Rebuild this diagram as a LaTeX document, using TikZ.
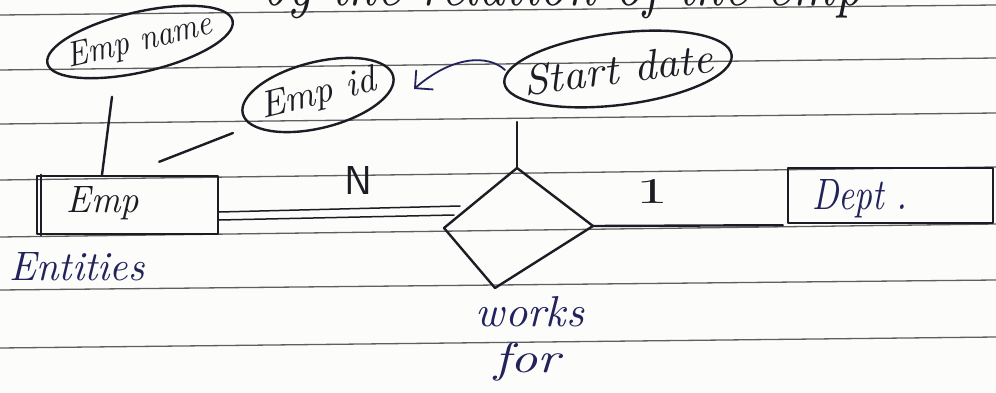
\documentclass[tikz,border=0pt]{standalone}
\usepackage{fontspec}
\usetikzlibrary{shapes.geometric,arrows.meta,calc}
\definecolor{ink}{RGB}{28,28,36}
\definecolor{blueink}{RGB}{34,34,92}
\definecolor{ruleline}{RGB}{95,95,95}
\definecolor{paper}{RGB}{252,252,250}
% handwritten-looking word squeezed into a given width and height
\newcommand\hand[3]{\resizebox{#1pt}{#2pt}{\itshape #3}}
\newcommand\plain[3]{\resizebox{#1pt}{#2pt}{#3}}

\begin{document}
\begin{tikzpicture}[x=1pt,y=-1pt,line cap=round,line join=round,
  pen/.style={draw=ink,line width=2.4pt},
  attr/.style={ellipse,pen,inner xsep=-16pt,inner ysep=0pt,text=ink},
  entity/.style={rectangle,pen,inner sep=0pt},
  hw/.style={inner sep=0pt,text=ink},
  hwblue/.style={inner sep=0pt,text=blueink}]

\useasboundingbox (0,0) rectangle (996,393);
\fill[paper] (0,0) rectangle (996,393);

% ruled notebook lines
\foreach \a/\b in {15/5,70/58,124/113,180/167,237/224,290/280,348/337}
  \draw[ruleline,line width=1.3pt] (0,\a) -- (996,\b);

% the cut-off line of writing at the top of the page
\begin{scope}
  \clip (0,0) rectangle (996,30);
  \node[hw,anchor=base west] (topline) at (262,6) {\hand{600}{46}{by the relation of the emp}};
\end{scope}

% attributes
\node[attr,minimum width=190pt,minimum height=60pt,rotate=13] (empname) at (140,42)
  {\hand{148}{24}{Emp name}};
\node[attr,minimum width=155pt,minimum height=66pt,rotate=14] (empid) at (318,95)
  {\hand{118}{26}{Emp id}};
\node[attr,minimum width=229pt,minimum height=72pt,rotate=7] (startdate) at (618,69)
  {\hand{190}{30}{Start date}};

% entities
\node[entity,minimum width=181pt,minimum height=58pt] (emp) at (127.5,205) {};
\draw[pen] ($(emp.north west)+(5,0)$) -- ($(emp.south west)+(5,0)$);
\node[hw] (empT) at (103,203) {\hand{72}{26}{Emp}};
\node[hwblue] (entities) at (77,267) {\hand{135}{28}{Entities}};

\node[entity,minimum width=205pt,minimum height=55pt] (dept) at (890.5,195.5) {};
\node[hwblue] (deptT) at (860,199) {\hand{95}{30}{Dept~.}};

% relationship: a hand-drawn, slightly lopsided diamond
\coordinate (wN) at (517,168);
\coordinate (wE) at (593,226);
\coordinate (wS) at (495,288);
\coordinate (wW) at (444,228);
\draw[pen] (wN) -- (wE) -- (wS) -- (wW) -- cycle;
\node[hwblue] (worksT) at (530,312) {\hand{108}{30}{works}};
\node[hwblue] (forT) at (527,362) {\hand{66}{30}{for}};

% cardinalities
\node[hw] (cardN) at (358,180) {\plain{28}{28}{\sffamily N}};
\node[hw] (card1) at (652,191) {\plain{32}{24}{1}};

% connectors
\draw[pen] ($(emp.north)+(-15.5,-78)$) -- ($(emp.north)+(-25.5,0)$);
\draw[pen] ($(empid)+(-85,38)$) -- ($(emp.north east)+(-60,-13)$);
\draw[pen] ($(wN)+(0,-46)$) -- (wN);
\draw[pen,line width=1.5pt] ($(emp.east)+(0,7)$) -- ($(wW)+(16,-22)$);
\draw[pen,line width=1.5pt] ($(emp.east)+(0,15)$) -- ($(wW)+(10,-13)$);
\draw[pen] (wE) -- ($(dept.south west)+(-4,1)$);

% arrow from start date back to emp id
\draw[pen,draw=blueink,line width=1.8pt,-{Straight Barb[length=13pt,width=26pt]}]
  ($(startdate)+(-113,1)$) .. controls (488,54) and (452,56) .. ($(empid)+(96,-6)$);
\end{tikzpicture}
\end{document}
